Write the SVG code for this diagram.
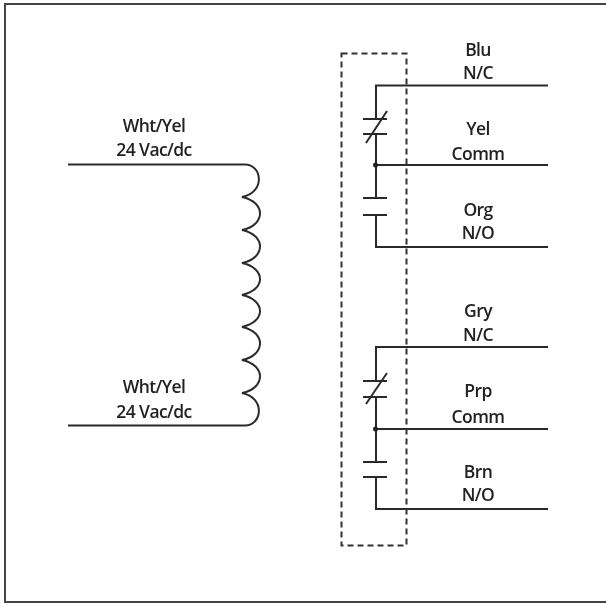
<svg xmlns="http://www.w3.org/2000/svg" width="606" height="604" viewBox="0 0 606 604">
<style>
.w{fill:none;stroke:#2b2b2b;stroke-width:2}
.f{fill:none;stroke:#444;stroke-width:2}
.d{fill:none;stroke:#333;stroke-width:2;stroke-dasharray:6 4}
text{font-family:"Open Sans","Liberation Sans",sans-serif;font-size:17.5px;font-weight:600;fill:#222;text-anchor:middle;letter-spacing:-.6px}
</style>
<defs>
<filter id="s" x="-5%" y="-5%" width="110%" height="110%"><feGaussianBlur stdDeviation="0.6"/></filter>
</defs>
<rect width="606" height="604" fill="#fff"/>
<g filter="url(#s)">
<path id="frame" class="f" d="M5 603V4H606M5 602H606"/>
<g id="connectors">
<path class="w" d="M68 164.500H245M68 425.500H245"/>
<path class="w" d="M376 119V85.500H548M376 198V134M376 165H548M376 215V247H548"/>
<path class="w" d="M376 381V347H548M376 462V397M376 429H548M376 477V509H548"/>
</g>
<g id="coil"><path class="w" d="M245 164.500C262 164.500 266 192 242 197C266 202 266 225 242 230C266 235 266 258 242 263C266 268 266 290 242 295C266 300 266 322 242 327C266 332 266 355 242 360C266 365 266 388 242 393C266 398 262 425.500 245 425.500"/></g>
<g id="relay-box"><rect class="d" x="341.500" y="53.500" width="65" height="492"/></g>
<g id="contact-nc-1"><path class="w" d="M363 119H387M363 134H387M366 143L387 111"/></g>
<g id="contact-no-1"><path class="w" d="M363 198H387M363 215H387"/></g>
<g id="contact-nc-2"><path class="w" d="M363 381H387M363 397H387M366 404L387 373"/></g>
<g id="contact-no-2"><path class="w" d="M363 462H387M363 477H387"/></g>
<g id="junctions"><circle cx="375.500" cy="165" r="2.500" fill="#222"/><circle cx="375.500" cy="429" r="2.500" fill="#222"/></g>
<g id="label-coil-top"><text x="154" y="132">Wht/Yel</text><text x="154" y="156">24 Vac/dc</text></g>
<g id="label-coil-bottom"><text x="154" y="393">Wht/Yel</text><text x="154" y="418">24 Vac/dc</text></g>
<g id="label-blu"><text x="478" y="56">Blu</text><text x="478" y="79">N/C</text></g>
<g id="label-yel"><text x="478" y="135">Yel</text><text x="478" y="160">Comm</text></g>
<g id="label-org"><text x="478" y="216">Org</text><text x="478" y="239">N/O</text></g>
<g id="label-gry"><text x="478" y="317">Gry</text><text x="478" y="341">N/C</text></g>
<g id="label-prp"><text x="478" y="397">Prp</text><text x="478" y="423">Comm</text></g>
<g id="label-brn"><text x="478" y="478">Brn</text><text x="478" y="501">N/O</text></g>
</g>
</svg>
